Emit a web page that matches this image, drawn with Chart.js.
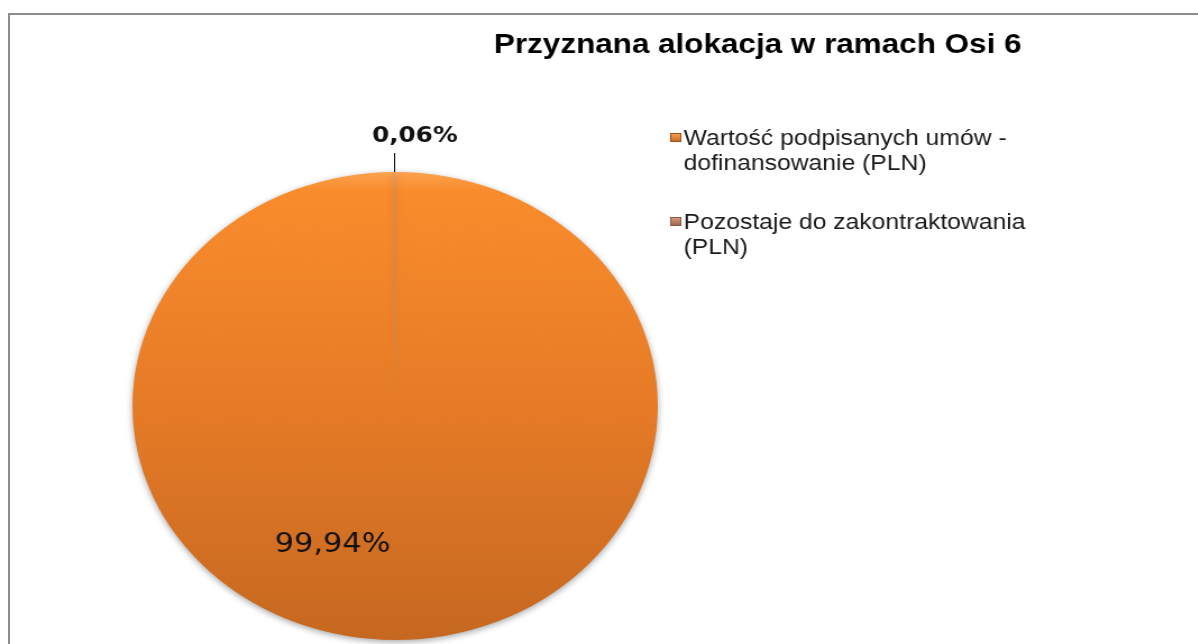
<!DOCTYPE html>
<html>
<head>
<meta charset="utf-8">
<script src="https://cdn.jsdelivr.net/npm/chart.js@4"></script>
<style>
  html, body { margin: 0; padding: 0; background: #fff; overflow: hidden; }
  #frame { position: absolute; left: 8px; top: 13px; width: 1300px; height: 800px; border: 2px solid #8c8c8c; }
  #wrap { position: absolute; left: 0; top: 0; width: 1066px; height: 644px; transform: scaleX(1.1225); transform-origin: 0 0; }
</style>
</head>
<body>
<div id="frame"></div>
<div id="wrap"><canvas id="pie" width="1066" height="644"></canvas></div>
<script>
// dane
const chartTitle = 'Przyznana alokacja w ramach Osi 6';
const categories = ['Wartość podpisanych umów - dofinansowanie (PLN)', 'Pozostaje do zakontraktowania (PLN)'];
const legendLines = [['Wartość podpisanych umów -', 'dofinansowanie (PLN)'], ['Pozostaje do zakontraktowania', '(PLN)']];
const shares = [99.94, 0.06];
const sliceColors = [['#fca24f', '#f98c2c', '#e67b27', '#c66821'], ['#d9a084', '#c4876a', '#b57558', '#9c624a']];

const fmt = v => v.toFixed(2).replace('.', ',') + '%';

function sliceFill(ctx) {
  const cols = sliceColors[ctx.dataIndex];
  const area = ctx.chart.chartArea;
  if (!area) return cols[2];
  const g = ctx.chart.ctx.createLinearGradient(0, area.top, 0, area.bottom);
  g.addColorStop(0, cols[0]);
  g.addColorStop(0.04, cols[1]);
  g.addColorStop(0.5, cols[2]);
  g.addColorStop(1, cols[3]);
  return g;
}

const decor = {
  id: 'decor',
  beforeDatasetsDraw(chart) {
    const c = chart.ctx;
    c.save();
    c.shadowColor = 'rgba(0,0,0,0.35)';
    c.shadowBlur = 6;
    c.shadowOffsetY = 2;
  },
  afterDatasetsDraw(chart) {
    const c = chart.ctx;
    c.restore();
    const arcs = chart.getDatasetMeta(0).data;
    const big = arcs[0], small = arcs[1];
    const r = big.outerRadius;

    // etykieta duzego wycinka
    c.fillStyle = '#111';
    c.font = '27px "DejaVu Sans"';
    c.textAlign = 'center';
    c.textBaseline = 'middle';
    c.fillText(fmt(shares[0]), big.x - r * 0.238, big.y + r * 0.594);

    // etykieta malego wycinka z linia
    const a = (small.startAngle + small.endAngle) / 2;
    const ex = small.x + Math.cos(a) * r, ey = small.y + Math.sin(a) * r;
    c.strokeStyle = '#000';
    c.lineWidth = 1;
    c.beginPath();
    c.moveTo(ex, ey);
    c.lineTo(ex, ey - 19);
    c.stroke();
    c.font = 'bold 22px "DejaVu Sans"';
    c.fillText(fmt(shares[1]), ex + 18, ey - 36);

    // tytul
    c.font = 'bold 28px "Liberation Sans"';
    c.textBaseline = 'alphabetic';
    c.fillStyle = '#000';
    c.fillText(chartTitle, 675, 53);

    // legenda
    c.textAlign = 'left';
    c.font = '22px "Liberation Sans"';
    legendLines.forEach((lines, i) => {
      const top = 133 + i * 84;
      const cols = sliceColors[i];
      const g = c.createLinearGradient(0, top, 0, top + 9);
      g.addColorStop(0, cols[0]);
      g.addColorStop(1, cols[3]);
      c.fillStyle = g;
      c.fillRect(597, top, 10, 9);
      c.strokeStyle = i === 0 ? '#9a4f16' : '#8a5a44';
      c.strokeRect(597.5, top + 0.5, 9, 8);
      c.fillStyle = '#1a1a1a';
      lines.forEach((t, j) => c.fillText(t, 609, 145 + i * 84 + j * 25));
    });
  }
};

new Chart(document.getElementById('pie'), {
  type: 'pie',
  data: {
    labels: categories,
    datasets: [{
      data: shares,
      backgroundColor: sliceFill,
      borderWidth: 0
    }]
  },
  options: {
    responsive: false,
    animation: false,
    devicePixelRatio: 1,
    layout: { padding: { left: 118, right: 480, top: 172, bottom: 4 } },
    plugins: { legend: { display: false }, title: { display: false }, tooltip: { enabled: false } }
  },
  plugins: [decor]
});
</script>
</body>
</html>
